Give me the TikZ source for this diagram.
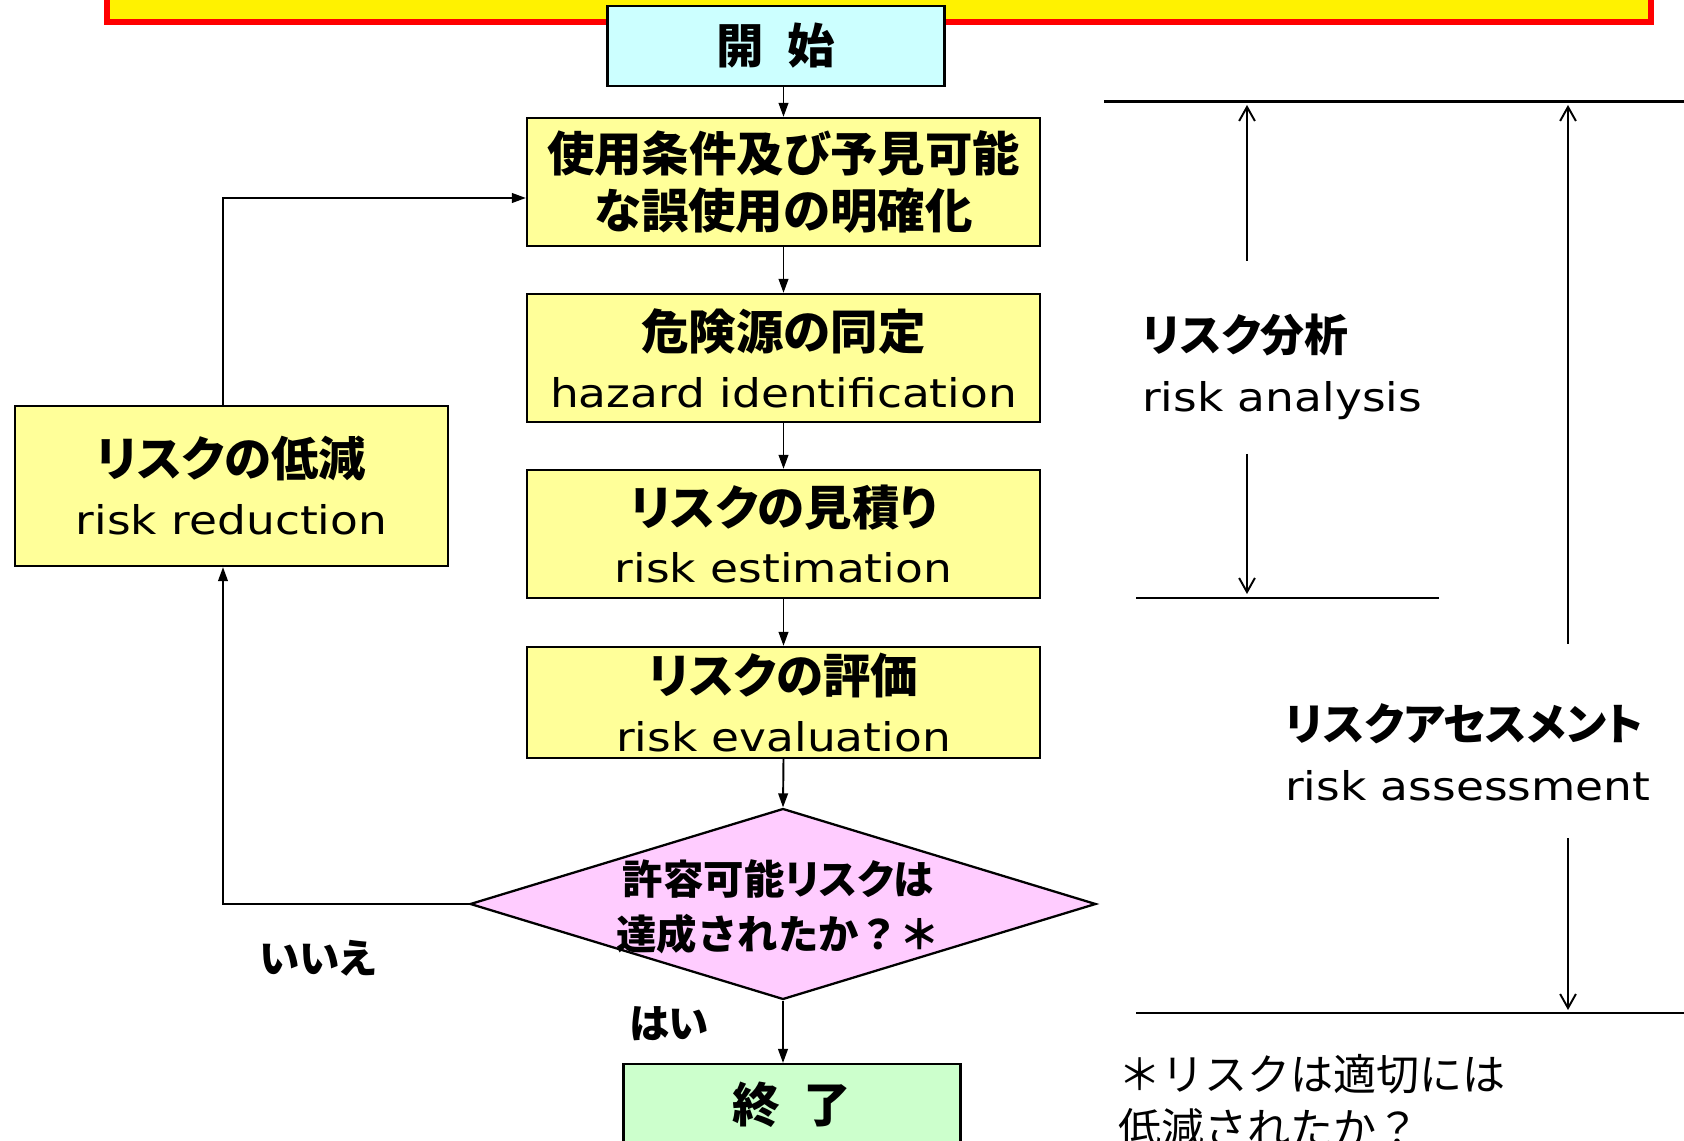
\documentclass[tikz,border=0pt]{standalone}
\usepackage{fontspec}
\setmainfont{Noto Sans CJK JP}[RawFeature=+palt]
\newfontfamily\jpfixed{Noto Sans CJK JP}
\newfontfamily\enfont{DejaVu Sans}[FakeStretch=1.15]
\usetikzlibrary{arrows.meta,shapes.geometric}
\definecolor{boxyellow}{HTML}{FFFF99}
\definecolor{startcyan}{HTML}{CCFFFF}
\definecolor{endgreen}{HTML}{CCFFCC}
\definecolor{diapink}{HTML}{FFCCFF}
\newcommand{\jpbig}{\fontsize{27}{33}\selectfont\bfseries}
\newcommand{\jpmid}{\fontsize{23}{31}\selectfont\bfseries}
\newcommand{\jpside}{\fontsize{25}{34}\selectfont\bfseries}
\newcommand{\en}[1]{{\enfont\fontsize{22.5}{33}\selectfont\mdseries #1}}
\tikzset{
  stepbox/.style={draw,line width=1.3pt,fill=boxyellow,inner sep=0pt,
    minimum width=10.26cm,minimum height=2.56cm,align=center,font=\jpbig},
  termbox/.style={draw,line width=1.3pt,inner sep=0pt,minimum width=6.74cm,font=\jpbig},
  flow/.style={line width=1.1pt,-{Triangle[length=8pt,width=5.5pt]}},
  dim/.style={line width=1.1pt,-{Straight Barb[length=8pt,width=9pt]}},
  rule/.style={line width=1.7pt}}

\begin{document}
\begin{tikzpicture}[x=0.02cm,y=-0.02cm]
  \useasboundingbox (0,0) rectangle (1684,1141);
  \draw[line width=3.4pt,draw=red,fill=yellow] (107,-40) rectangle (1651,22);

  \node[termbox,fill=startcyan,minimum height=1.6cm] (start) at (776,46) {開\hspace{0.5em}始};
  \node[stepbox] (b1) at (783.5,182) {使用条件及び予見可能\\な誤使用の明確化};
  \node[stepbox] (b2) at (783.5,358) {危険源の同定\\\en{hazard identification}};
  \node[stepbox] (b3) at (783.5,534) {リスクの見積り\\\en{risk estimation}};
  \node[stepbox,minimum height=2.22cm] (b4) at (783.5,702.5) {リスクの評価\\\en{risk evaluation}};
  \node[stepbox,minimum width=8.66cm,minimum height=3.2cm] (red) at (231.5,486) {リスクの低減\\\en{risk reduction}};

  \node[diamond,draw,line width=1.3pt,fill=diapink,inner sep=0pt,
    minimum width=12.52cm,minimum height=3.82cm] (dia) at (783,904) {};
  \node[align=center,font=\jpmid] (ask) at (778,907) {許容可能リスクは\\{\jpfixed 達成されたか？＊}};

  \node[termbox,fill=endgreen,anchor=north,text height=1.16cm,text depth=1.6cm] (end) at (792,1063) {終\hspace{0.5em}了};

  \draw[flow] (start.south -| b1.north) -- (b1.north);
  \draw[flow] (b1.south) -- (b2.north);
  \draw[flow] (b2.south) -- (b3.north);
  \draw[flow] (b3.south) -- (b4.north);
  \draw[flow] (b4.south) -- (dia.north);
  \draw[flow] (dia.south) -- (dia.south |- end.north);

  % loop back through risk reduction
  \coordinate (loop) at (223,198);
  \draw[flow] (dia.west) -| (red.south -| loop);
  \draw[flow] (red.north -| loop) |- (b1.west |- loop);
  \node[font=\jpmid] (no) at (318,958) {いいえ};
  \node[font=\jpmid] (yes) at (669,1024) {はい};

  % analysis / assessment ranges
  \draw[rule] (1104,102) -- (1684,102);
  \draw[rule] (1136,598) -- (1439,598);
  \draw[rule] (1136,1013) -- (1684,1013);
  \node[anchor=west,align=left,font=\jpside] (anal) at (1136,367) {リスク分析\\\en{risk analysis}};
  \node[anchor=west,align=left,font=\jpside] (asmt) at (1279,752) {リスクアセスメント\\\en{risk assessment}};
  \draw[dim] (1247,261) -- (1247,105);
  \draw[dim] (1247,454) -- (1247,594);
  \draw[dim] (1568,644) -- (1568,105);
  \draw[dim] (1568,838) -- (1568,1010);

  \node[anchor=west,align=left,font=\jpfixed\fontsize{24.5}{31}\selectfont] (note) at (1112,1101) {＊リスクは適切には\\低減されたか？};
\end{tikzpicture}
\end{document}
